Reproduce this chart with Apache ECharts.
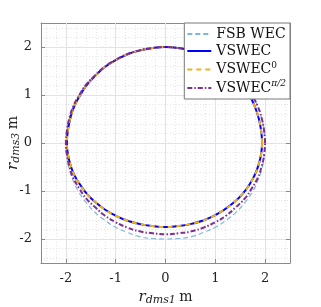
<!DOCTYPE html>
<html><head><meta charset="utf-8">
<script src="https://cdn.jsdelivr.net/npm/echarts@6/dist/echarts.min.js"></script>
<style>html,body{margin:0;padding:0;background:#fff}#c{width:321px;height:307px}</style>
</head><body><div id="c"></div>
<script>
// Series names
const seriesNames = ['FSB WEC', 'VSWEC', 'VSWEC0', 'VSWECpi2'];
// Axis ticks
const xTicks = [-2, -1, 0, 1, 2];
const yTicks = [-2, -1, 0, 1, 2];
// FSB WEC trajectory [r_dms1, r_dms3]
const fsbWec = [[2.0,0],[1.98,0.26],[1.93,0.52],[1.85,0.77],[1.73,1.0],[1.59,1.22],[1.41,1.41],[1.22,1.59],[1.0,1.73],[0.77,1.85],[0.52,1.93],[0.26,1.98],[0,2.0],
  [-0.26,1.98],[-0.52,1.93],[-0.77,1.85],[-1.0,1.73],[-1.22,1.59],[-1.41,1.41],[-1.59,1.22],[-1.73,1.0],[-1.85,0.77],[-1.93,0.52],[-1.98,0.26],[-2.0,0],
  [-1.98,-0.26],[-1.94,-0.52],[-1.86,-0.77],[-1.75,-1.01],[-1.6,-1.23],[-1.43,-1.43],[-1.23,-1.6],[-1.01,-1.75],[-0.77,-1.86],[-0.52,-1.95],[-0.26,-1.99],[0,-2.0],
  [0.26,-1.99],[0.52,-1.95],[0.77,-1.86],[1.01,-1.75],[1.23,-1.6],[1.43,-1.43],[1.6,-1.23],[1.75,-1.01],[1.86,-0.77],[1.94,-0.52],[1.98,-0.26],[2.0,0]];
// VSWEC trajectory
const vswec = [[1.94,0],[1.92,0.26],[1.87,0.52],[1.79,0.77],[1.68,1.0],[1.54,1.22],[1.37,1.41],[1.18,1.59],[0.97,1.73],[0.74,1.85],[0.5,1.93],[0.25,1.98],[0,2.0],
  [-0.26,1.98],[-0.51,1.93],[-0.76,1.85],[-0.99,1.73],[-1.21,1.59],[-1.4,1.41],[-1.57,1.22],[-1.71,1.0],[-1.83,0.77],[-1.91,0.52],[-1.96,0.26],[-1.98,0],
  [-1.96,-0.23],[-1.91,-0.45],[-1.83,-0.67],[-1.71,-0.875],[-1.57,-1.07],[-1.4,-1.24],[-1.21,-1.39],[-0.99,-1.52],[-0.76,-1.62],[-0.51,-1.69],[-0.26,-1.73],[0,-1.75],
  [0.25,-1.73],[0.5,-1.69],[0.74,-1.62],[0.97,-1.52],[1.18,-1.39],[1.37,-1.24],[1.54,-1.07],[1.68,-0.875],[1.79,-0.67],[1.87,-0.45],[1.92,-0.23],[1.94,0]];
// VSWEC^0 trajectory
const vswec0 = [[1.94,0],[1.92,0.26],[1.87,0.52],[1.79,0.77],[1.68,1.0],[1.54,1.22],[1.37,1.41],[1.18,1.59],[0.97,1.73],[0.74,1.85],[0.5,1.93],[0.25,1.98],[0,2.0],
  [-0.26,1.98],[-0.51,1.93],[-0.76,1.85],[-0.99,1.73],[-1.21,1.59],[-1.4,1.41],[-1.57,1.22],[-1.71,1.0],[-1.83,0.77],[-1.91,0.52],[-1.96,0.26],[-1.98,0],
  [-1.96,-0.23],[-1.91,-0.45],[-1.83,-0.67],[-1.71,-0.875],[-1.57,-1.07],[-1.4,-1.24],[-1.21,-1.39],[-0.99,-1.52],[-0.76,-1.62],[-0.51,-1.69],[-0.26,-1.73],[0,-1.75],
  [0.25,-1.73],[0.5,-1.69],[0.74,-1.62],[0.97,-1.52],[1.18,-1.39],[1.37,-1.24],[1.54,-1.07],[1.68,-0.875],[1.79,-0.67],[1.87,-0.45],[1.92,-0.23],[1.94,0]];
// VSWEC^{pi/2} trajectory
const vswecPi2 = [[2.0,0],[1.98,0.26],[1.93,0.52],[1.85,0.77],[1.73,1.0],[1.59,1.22],[1.41,1.41],[1.22,1.59],[1.0,1.73],[0.77,1.85],[0.52,1.93],[0.26,1.98],[0,2.0],
  [-0.26,1.98],[-0.52,1.93],[-0.77,1.85],[-1.0,1.73],[-1.22,1.59],[-1.41,1.41],[-1.59,1.22],[-1.73,1.0],[-1.85,0.77],[-1.93,0.52],[-1.98,0.26],[-2.0,0],
  [-1.98,-0.25],[-1.93,-0.49],[-1.85,-0.73],[-1.73,-0.95],[-1.59,-1.16],[-1.41,-1.34],[-1.22,-1.51],[-1.0,-1.65],[-0.77,-1.76],[-0.52,-1.84],[-0.26,-1.88],[0,-1.9],
  [0.26,-1.88],[0.52,-1.84],[0.77,-1.76],[1.0,-1.65],[1.22,-1.51],[1.41,-1.34],[1.59,-1.16],[1.73,-0.95],[1.85,-0.73],[1.93,-0.49],[1.98,-0.25],[2.0,0]];

const serif = '"DejaVu Serif", "Liberation Serif", serif';
const axisCol = '#8a8a8a';
const chart = echarts.init(document.getElementById('c'), null, {renderer: 'canvas'});

function mainAxis(pos, ticks, showLabel) {
  return {
    type: 'value', min: -2.5, max: 2.5, position: pos,
    axisLine: {show: true, onZero: false, lineStyle: {color: axisCol, width: 1}},
    axisTick: {show: true, inside: true, length: 4, customValues: ticks, lineStyle: {color: axisCol}},
    axisLabel: {show: showLabel, customValues: ticks, fontFamily: serif, fontSize: 13, color: '#222', margin: 9},
    splitLine: {show: showLabel, lineStyle: {color: '#e2e2e2', width: 1}}
  };
}
function minorAxis(pos) {
  return {
    type: 'value', min: -2.5, max: 2.5, interval: 0.1, position: pos,
    axisLine: {show: false}, axisTick: {show: false}, axisLabel: {show: false},
    splitLine: {show: true, lineStyle: {color: ['rgba(0,0,0,0)', '#e4e4e4'], type: [1, 2], width: 1}}
  };
}
const nameRich = {
  i: {fontFamily: serif, fontStyle: 'italic', fontSize: 15, color: '#222'},
  s: {fontFamily: serif, fontStyle: 'italic', fontSize: 11, color: '#222', padding: [6, 0, 0, 0]},
  n: {fontFamily: serif, fontSize: 14, color: '#222'}
};
const gRich = {
  i: {fontFamily: serif, fontStyle: 'italic', fontSize: 15, fill: '#222'},
  s: {fontFamily: serif, fontStyle: 'italic', fontSize: 11, fill: '#222', padding: [6, 0, 0, 0]},
  n: {fontFamily: serif, fontSize: 14, fill: '#222'}
};
const xa = Object.assign(mainAxis('bottom', xTicks, true), {
  name: '{i|r}{s|dms1} {n|m}', nameLocation: 'middle', nameGap: 25, nameTextStyle: {rich: nameRich}, z: 3
});
const ya = mainAxis('left', yTicks, true);

const supRich = {
  b: {fontFamily: serif, fontSize: 14, color: '#111'},
  p: {fontFamily: serif, fontSize: 9, color: '#111', padding: [0, 0, 8, 0]},
  q: {fontFamily: serif, fontSize: 9, fontStyle: 'italic', color: '#111', padding: [0, 0, 8, 0]}
};
const legendLabels = {
  'FSB WEC': '{b|FSB WEC}',
  'VSWEC': '{b|VSWEC}',
  'VSWEC0': '{b|VSWEC}{p|0}',
  'VSWECpi2': '{b|VSWEC}{q|π/2}'
};

chart.setOption({
  animation: false,
  grid: {left: 41, right: 31, top: 23, bottom: 44, containLabel: false, outerBoundsMode: 'none'},
  xAxis: [xa, mainAxis('top', xTicks, false), minorAxis('top')],
  yAxis: [ya, mainAxis('right', yTicks, false), minorAxis('right')],
  graphic: [{
    type: 'text', x: 13, y: 143, rotation: Math.PI / 2, z: 10,
    style: {text: '{i|r}{s|dms3} {n|m}', rich: gRich, align: 'center', verticalAlign: 'middle', fill: '#222'}
  }],
  legend: {
    right: 31, top: 23, orient: 'vertical', itemGap: 3, itemWidth: 24, itemHeight: 12,
    padding: [4, 4, 4, 2], backgroundColor: '#fff', borderColor: '#777', borderWidth: 1, borderRadius: 0,
    data: seriesNames,
    itemStyle: {opacity: 0},
    formatter: n => legendLabels[n],
    textStyle: {fontFamily: serif, fontSize: 14, color: '#111', rich: supRich}
  },
  series: [
    {name: seriesNames[0], type: 'line', data: fsbWec, smooth: 0.5, showSymbol: false, symbol: 'none',
      lineStyle: {color: '#7fb6de', width: 1.2, type: [5, 3]}, itemStyle: {color: '#7fb6de'}},
    {name: seriesNames[1], type: 'line', data: vswec, smooth: 0.5, showSymbol: false, symbol: 'none',
      lineStyle: {color: '#0000ff', width: 2}, itemStyle: {color: '#0000ff'}},
    {name: seriesNames[2], type: 'line', data: vswec0, smooth: 0.5, showSymbol: false, symbol: 'none',
      lineStyle: {color: '#edb120', width: 2, type: [5, 4]}, itemStyle: {color: '#edb120'}},
    {name: seriesNames[3], type: 'line', data: vswecPi2, smooth: 0.5, showSymbol: false, symbol: 'none',
      lineStyle: {color: '#7e2f8e', width: 2, type: [5, 2, 1.5, 2]}, itemStyle: {color: '#7e2f8e'}}
  ]
});
</script></body></html>
